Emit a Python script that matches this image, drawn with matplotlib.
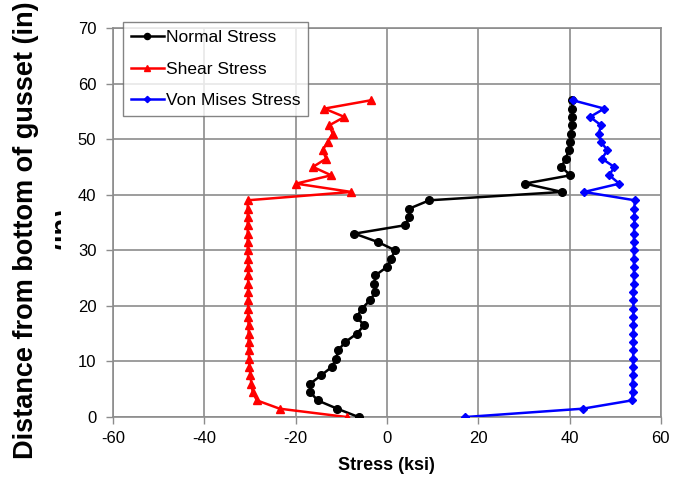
import matplotlib
matplotlib.use("Agg")
import matplotlib.pyplot as plt
from matplotlib.patches import Rectangle

plt.rcParams['font.family'] = ['Liberation Sans', 'DejaVu Sans']
plt.rcParams['axes.unicode_minus'] = False

# distance from bottom of gusset (in)
height = [0, 1.5, 3, 4.5, 6, 7.5, 9, 10.5, 12, 13.5, 15, 16.5, 18, 19.5,
          21, 22.5, 24, 25.5, 27, 28.5, 30, 31.5, 33, 34.5, 36, 37.5, 39,
          40.5, 42, 43.5, 45, 46.5, 48, 49.5, 51, 52.5, 54, 55.5, 57]

normal = [-6.2, -10.9, -15.2, -16.8, -16.8, -14.4, -12.1, -11.1, -10.7, -9.1,
          -6.6, -5.0, -6.6, -5.5, -3.7, -2.5, -2.8, -2.5, 0.0, 0.9,
          1.8, -2.0, -7.1, 3.9, 4.9, 4.9, 9.3, 38.4, 30.2, 40.2,
          38.2, 39.2, 39.8, 40.1, 40.4, 40.5, 40.6, 40.6, 40.6]

shear = [-8.8, -23.5, -28.5, -29.4, -29.7, -29.9, -30.1, -30.2, -30.3, -30.3,
         -30.3, -30.3, -30.4, -30.4, -30.4, -30.4, -30.4, -30.4, -30.4, -30.4,
         -30.5, -30.5, -30.5, -30.5, -30.5, -30.5, -30.5, -7.8, -19.9, -12.2,
         -16.2, -13.3, -14.1, -13.0, -11.9, -12.6, -9.3, -13.7, -3.5]

von_mises = [17.2, 42.9, 53.7, 53.8, 53.8, 53.9, 53.9, 53.9, 54.0, 54.0,
             54.0, 54.0, 54.0, 54.0, 54.0, 54.0, 54.1, 54.1, 54.1, 54.1,
             54.1, 54.1, 54.1, 54.2, 54.2, 54.2, 54.3, 43.2, 50.9, 48.7,
             49.8, 47.1, 48.3, 46.9, 46.4, 46.9, 44.5, 47.6, 40.7]

fig = plt.figure(figsize=(6.75, 4.83), dpi=100)
ax = fig.add_axes([0.1674, 0.1366, 0.8116, 0.8054])

ax.plot(normal, height, color='black', marker='o', markersize=5.5, linewidth=1.8,
        label='Normal Stress', zorder=3)
ax.plot(shear, height, color='red', marker='^', markersize=6, linewidth=1.8,
        label='Shear Stress', zorder=3)
ax.plot(von_mises, height, color='blue', marker='D', markersize=4, linewidth=1.8,
        label='Von Mises Stress', zorder=3)

ax.set_xlim(-60, 60)
ax.set_ylim(0, 70)
ax.set_xticks(range(-60, 61, 20))
ax.set_yticks(range(0, 71, 10))
ax.grid(True, color='#8c8c8c', linewidth=1.2)
ax.set_axisbelow(True)
for s in ax.spines.values():
    s.set_color('#8c8c8c')
    s.set_linewidth(1.2)
ax.tick_params(direction='out', length=5, width=1, color='#8c8c8c',
               labelsize=12)
ax.tick_params(axis='y', pad=7)
ax.tick_params(axis='x', pad=5)

ax.set_xlabel('Stress (ksi)', fontsize=13, fontweight='bold', labelpad=8)
ax.set_ylabel('Distance from bottom of gusset (in)', fontsize=19.5,
              fontweight='bold')
ax.yaxis.set_label_coords(-(113 - 39) / 548, 0.48)

# clipped second line of the wrapped axis title (only glyph tops show)
t = fig.text(63 / 675, 1 - 228 / 483, '(in)', rotation=90, fontsize=19.5,
             fontweight='bold', ha='center', va='center')
clip = Rectangle((55 / 675, 0), 6 / 675, 1, transform=fig.transFigure)
t.set_clip_path(clip)

leg = ax.legend(loc='upper left', bbox_to_anchor=((123 - 113) / 548, (417 - 22) / 389),
                borderaxespad=0, fontsize=12.5,
                frameon=True, fancybox=False, edgecolor='#666666',
                handlelength=1.9, handletextpad=0.1, borderpad=0.45,
                labelspacing=0.95, markerscale=0.8)
leg.get_frame().set_linewidth(1.0)

plt.savefig('out.png', dpi=100)
